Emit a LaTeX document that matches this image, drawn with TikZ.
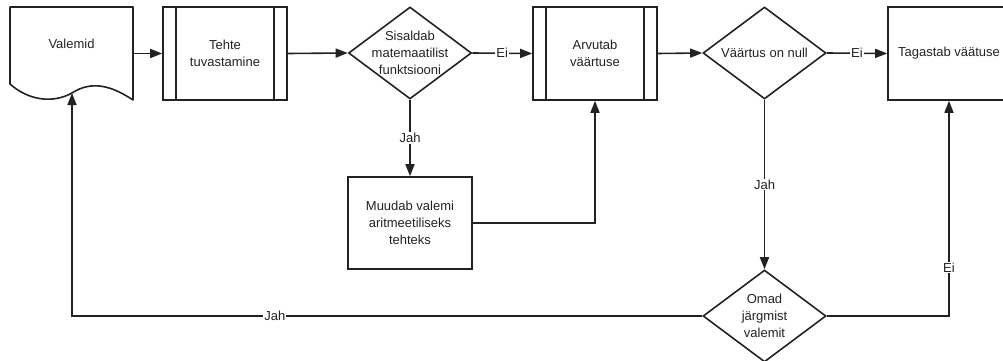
\documentclass[tikz,border=0pt]{standalone}
\usepackage{fontspec}
\setmainfont{Liberation Sans}
\usetikzlibrary{arrows.meta,shapes.geometric,calc}
\definecolor{ink}{HTML}{222222}
\begin{document}
\begin{tikzpicture}[x=1pt,y=-1pt,
  every node/.style={font=\fontsize{13}{17}\selectfont, text=ink},
  base/.style={draw=ink, line width=1.6pt, inner sep=0pt, align=center},
  procbox/.style={base, rectangle, minimum width=124pt, minimum height=93pt},
  subproc/.style={procbox, path picture={
     \draw[ink, line width=1.6pt] ([xshift=13pt]path picture bounding box.north west) -- ([xshift=13pt]path picture bounding box.south west);
     \draw[ink, line width=1.6pt] ([xshift=-13pt]path picture bounding box.north east) -- ([xshift=-13pt]path picture bounding box.south east);}},
  decision/.style={base, diamond, minimum width=123pt, minimum height=92pt},
  conn/.style={draw=ink, line width=1.6pt},
  arr/.style={conn, -{Triangle[length=12pt,width=9pt]}},
  lbl/.style={fill=white, inner sep=1pt}
]
\useasboundingbox (0,0) rectangle (1003,361);

% Valemid (document shape)
\node[minimum width=123pt, minimum height=93pt, inner sep=0pt] (valemid) at (71.5,53.5) {};
\node (valemidtxt) at (71.5,44) {Valemid};
\draw[ink, line width=1.6pt, line join=round] (10,7) -- (133,7) -- (133,100)
   .. controls (112,86) and (92,80) .. (72,93)
   .. controls (52,104) and (28,100) .. (10,84) -- cycle;
\coordinate (vbot) at (72,93);

\node[subproc] (tehte) at (225,53.5) {Tehte\\tuvastamine};
\node[decision, label={[align=center]center:Sisaldab\\matemaatilist\\funktsiooni}] (d1) at (410,53) {};
\node[subproc] (arvutab) at (595,53.5) {Arvutab\\väärtuse};
\node[decision, label={center:Väärtus on null}] (d2) at (764.5,53) {};
\node[procbox, minimum width=122pt] (tagastab) at (949,53.5) {Tagastab väätuse};
\node[procbox, minimum height=92pt] (muudab) at (410,223) {Muudab valemi\\aritmeetiliseks\\tehteks};
\node[decision, label={[align=center]center:Omad\\järgmist\\valemit}] (d3) at (764.5,316) {};

\draw[arr] (valemid.east) -- (tehte.west);
\draw[arr] (tehte.east) -- (d1.west);
\draw[arr] (d1.east) -- node[lbl] {Ei} (arvutab.west);
\draw[arr] (arvutab.east) -- (d2.west);
\draw[arr] (d2.east) -- node[lbl] {Ei} (tagastab.west);
\draw[arr] (d1.south) -- node[lbl] {Jah} (muudab.north);
\draw[arr] (muudab.east) -| (arvutab.south);
\draw[arr] (d2.south) -- node[lbl] {Jah} (d3.north);
\draw[arr] (d3.east) -| node[lbl, pos=0.613] {Ei} (tagastab.south);
\draw[arr] (d3.west) -| node[lbl, pos=0.339] {Jah} (vbot);
\end{tikzpicture}
\end{document}
